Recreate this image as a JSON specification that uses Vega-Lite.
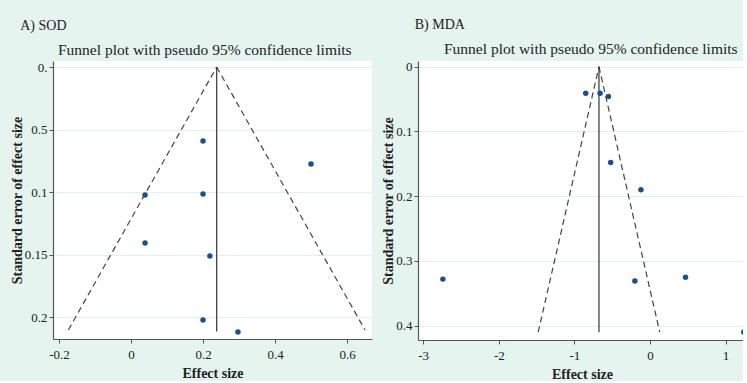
{
  "$schema": "https://vega.github.io/schema/vega-lite/v6.json",
  "background": "#e5f4ee",
  "padding": {"left": 10, "top": 18, "right": -4, "bottom": 0},
  "spacing": 9,
  "datasets": {
    "a_pts": [
      {"es": 0.2, "se": 0.0592},
      {"es": 0.5, "se": 0.0776},
      {"es": 0.039, "se": 0.1024},
      {"es": 0.2, "se": 0.1016},
      {"es": 0.039, "se": 0.1408},
      {"es": 0.219, "se": 0.1512},
      {"es": 0.2, "se": 0.2024},
      {"es": 0.297, "se": 0.212}
    ],
    "a_fun": [
      {"side": "L", "es": 0.238, "se": 0},
      {"side": "L", "es": -0.174, "se": 0.2104},
      {"side": "R", "es": 0.238, "se": 0},
      {"side": "R", "es": 0.65, "se": 0.2104}
    ],
    "a_ref": [{"es": 0.238, "se0": 0, "se1": 0.2115}],
    "b_pts": [
      {"es": -0.85, "se": 0.041},
      {"es": -0.66, "se": 0.041},
      {"es": -0.55, "se": 0.046},
      {"es": -0.52, "se": 0.148},
      {"es": -0.12, "se": 0.19},
      {"es": -2.74, "se": 0.328},
      {"es": -0.2, "se": 0.331},
      {"es": 0.47, "se": 0.325},
      {"es": 1.24, "se": 0.41}
    ],
    "b_fun": [
      {"side": "L", "es": -0.675, "se": 0},
      {"side": "L", "es": -1.479, "se": 0.41},
      {"side": "R", "es": -0.675, "se": 0},
      {"side": "R", "es": 0.129, "se": 0.41}
    ],
    "b_ref": [{"es": -0.675, "se0": 0, "se1": 0.41}]
  },
  "hconcat": [
    {
      "title": {"text": "A) SOD", "anchor": "start", "dx": 10, "fontSize": 14, "fontWeight": "normal", "font": "Liberation Serif", "color": "#222", "offset": 10},
      "vconcat": [
        {
          "width": 319,
          "height": 278,
          "title": {"text": "Funnel plot with pseudo 95% confidence limits", "anchor": "start", "frame": "group", "dx": 5, "offset": 3},
          "layer": [
            {
              "data": {"name": "a_fun"},
              "mark": {"type": "line", "strokeDash": [6, 4], "color": "#444", "strokeWidth": 1.2, "clip": true},
              "encoding": {
                "x": {"field": "es", "type": "quantitative", "scale": {"domain": [-0.2167, 0.6694], "nice": false, "zero": false},
                      "axis": {"values": [-0.2, 0, 0.2, 0.4, 0.6], "format": "~g", "labelExpr": "replace(datum.label, '\u2212', '-')", "title": "Effect size", "grid": false}},
                "y": {"field": "se", "type": "quantitative", "scale": {"domain": [-0.0048, 0.2176], "nice": false, "zero": false, "reverse": true},
                      "axis": {"values": [0, 0.05, 0.1, 0.15, 0.2], "format": ".2~f", "labelExpr": "datum.value === 0 ? '0.' : (abs(datum.value - 0.05) < 1e-9 ? '0.5' : datum.label)", "title": "Standard error of effect size", "grid": true}},
                "detail": {"field": "side"}
              }
            },
            {
              "data": {"name": "a_ref"},
              "mark": {"type": "rule", "color": "#333", "strokeWidth": 1.2},
              "encoding": {
                "x": {"field": "es", "type": "quantitative"},
                "y": {"field": "se0", "type": "quantitative"},
                "y2": {"field": "se1"}
              }
            },
            {
              "data": {"name": "a_pts"},
              "mark": {"type": "circle", "size": 30, "color": "#1d4f8f", "opacity": 1},
              "encoding": {
                "x": {"field": "es", "type": "quantitative"},
                "y": {"field": "se", "type": "quantitative"}
              }
            }
          ]
        }
      ]
    },
    {
      "title": {"text": "B) MDA", "anchor": "start", "dx": 33, "fontSize": 14, "fontWeight": "normal", "font": "Liberation Serif", "color": "#222", "offset": 10},
      "vconcat": [
        {
          "width": 328,
          "height": 279,
          "title": {"text": "Funnel plot with pseudo 95% confidence limits", "anchor": "start", "frame": "group", "dx": 26, "offset": 3},
          "layer": [
            {
              "data": {"name": "b_fun"},
              "mark": {"type": "line", "strokeDash": [6, 4], "color": "#444", "strokeWidth": 1.2, "clip": true},
              "encoding": {
                "x": {"field": "es", "type": "quantitative", "scale": {"domain": [-3.069, 1.27], "nice": false, "zero": false},
                      "axis": {"values": [-3, -2, -1, 0, 1], "format": "~g", "labelExpr": "replace(datum.label, '\u2212', '-')", "title": "Effect size", "grid": false}},
                "y": {"field": "se", "type": "quantitative", "scale": {"domain": [-0.0088, 0.422], "nice": false, "zero": false, "reverse": true},
                      "axis": {"values": [0, 0.1, 0.2, 0.3, 0.4], "format": "~g", "title": "Standard error of effect size", "grid": true}},
                "detail": {"field": "side"}
              }
            },
            {
              "data": {"name": "b_ref"},
              "mark": {"type": "rule", "color": "#333", "strokeWidth": 1.2},
              "encoding": {
                "x": {"field": "es", "type": "quantitative"},
                "y": {"field": "se0", "type": "quantitative"},
                "y2": {"field": "se1"}
              }
            },
            {
              "data": {"name": "b_pts"},
              "mark": {"type": "circle", "size": 30, "color": "#1d4f8f", "opacity": 1},
              "encoding": {
                "x": {"field": "es", "type": "quantitative"},
                "y": {"field": "se", "type": "quantitative"}
              }
            }
          ]
        }
      ]
    }
  ],
  "config": {
    "view": {"fill": "white", "stroke": null},
    "title": {"font": "Liberation Serif", "fontSize": 15.5, "fontWeight": "normal", "color": "#222"},
    "axis": {
      "domainColor": "#555",
      "domainWidth": 1.2,
      "tickColor": "#555",
      "tickSize": 4,
      "labelFont": "Liberation Serif",
      "labelFontSize": 13,
      "labelColor": "#222",
      "labelPadding": 2,
      "titleFont": "Liberation Serif",
      "titleFontSize": 14,
      "titleFontWeight": "bold",
      "titleColor": "#222",
      "titlePadding": 0,
      "gridColor": "#e2f1eb",
      "gridWidth": 1
    },
    "axisX": {"grid": false, "labelPadding": 5, "titlePadding": 5}
  }
}
